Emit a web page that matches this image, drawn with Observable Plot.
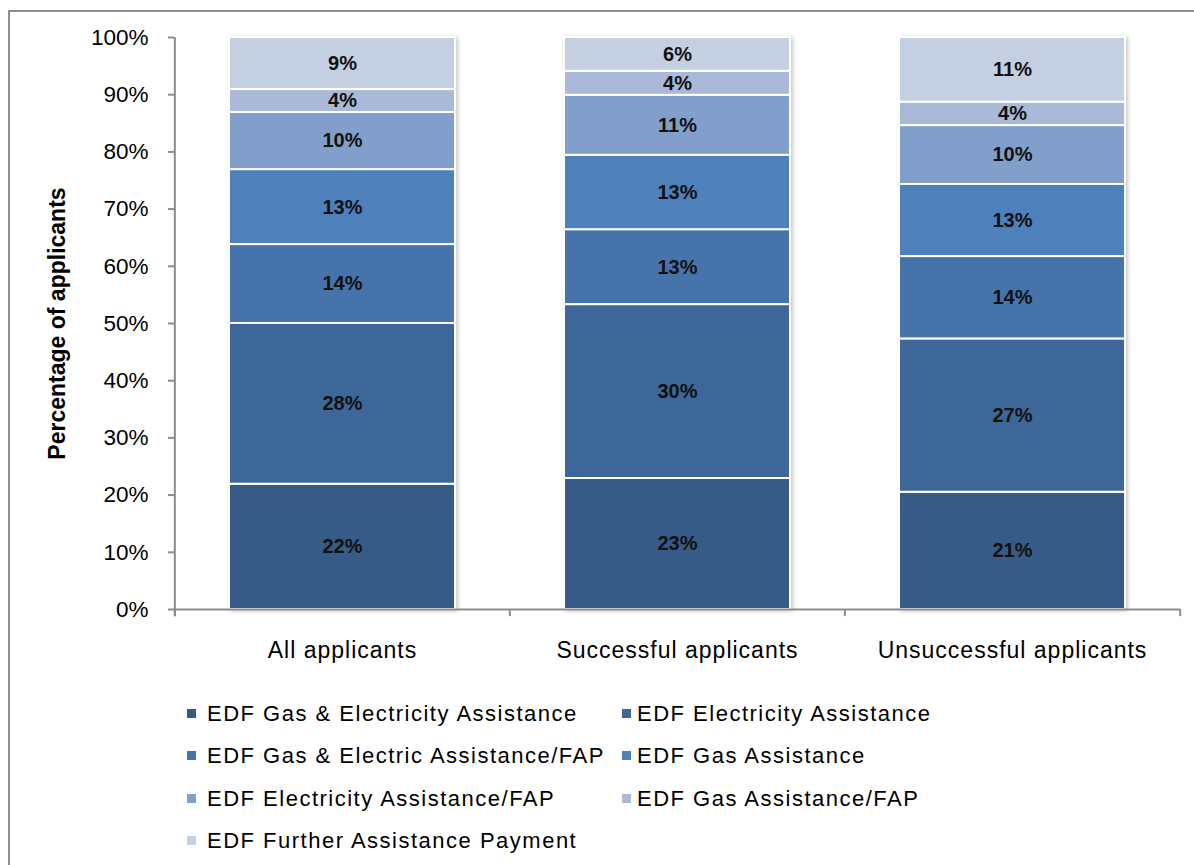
<!DOCTYPE html>
<html><head><meta charset="utf-8">
<script src="https://cdn.jsdelivr.net/npm/d3@7"></script>
<script src="https://cdn.jsdelivr.net/npm/@observablehq/plot@0.6"></script>
<style>
body{margin:0;background:#fff;font-family:"Liberation Sans",Arial,sans-serif;}
#wrap{position:relative;width:1194px;height:865px;overflow:hidden;background:#fff;}
#frame{position:absolute;left:8px;top:10px;width:1300px;height:1000px;border-left:2px solid #8f8f8f;border-top:2px solid #8f8f8f;}
#chart{position:absolute;left:0;top:0;}
.li{position:absolute;font-size:22px;line-height:22px;white-space:nowrap;color:#000;letter-spacing:1.5px;}
.sw{position:absolute;width:9px;height:9px;}
</style>
</head><body>
<div id="wrap"><div id="frame"></div><div id="chart"></div><div id="legend"></div></div>
<script>
const categories = ["All applicants", "Successful applicants", "Unsuccessful applicants"];
const seriesNames = [
  "EDF Gas & Electricity Assistance",
  "EDF Electricity Assistance",
  "EDF Gas & Electric Assistance/FAP",
  "EDF Gas Assistance",
  "EDF Electricity Assistance/FAP",
  "EDF Gas Assistance/FAP",
  "EDF Further Assistance Payment"
];
const allApplicants = [21.9, 28.1, 13.8, 13.1, 10.0, 4.0, 9.1];
const successfulApplicants = [22.9, 30.4, 13.1, 13.0, 10.5, 4.2, 5.9];
const unsuccessfulApplicants = [20.5, 26.8, 14.4, 12.6, 10.3, 4.1, 11.3];
const seriesColors = ["#375b87", "#3d6699", "#4674aa", "#4e80bc", "#829fcb", "#a9b9d7", "#c5cfe2"];
const yTicks = [0, 10, 20, 30, 40, 50, 60, 70, 80, 90, 100];

const valuesByCat = [allApplicants, successfulApplicants, unsuccessfulApplicants];
const data = [];
categories.forEach((cat, i) => {
  seriesNames.forEach((s, j) => data.push({cat, series: s, value: valuesByCat[i][j]}));
});

const W = 1194, mL = 174, mR = 14;
const half = (W - mL - mR) / categories.length / 2;

const chart = Plot.plot({
  width: W, height: 670,
  marginTop: 37, marginBottom: 61, marginLeft: mL, marginRight: mR,
  style: {fontFamily: "'Liberation Sans', Arial, sans-serif", fontSize: "22px", color: "#000", background: "transparent", overflow: "visible"},
  x: {domain: categories, paddingInner: 0.325, paddingOuter: 0.1625, axis: null},
  y: {domain: [0, 100], axis: null},
  color: {domain: seriesNames, range: seriesColors},
  marks: [
    Plot.barY(data, Plot.stackY({x: "cat", y: "value", fill: "series", stroke: "white", strokeWidth: 2})),
    Plot.text(data, Plot.stackY({x: "cat", y: "value", text: d => Math.round(d.value) + "%", fontWeight: "bold", fontSize: 20, fill: "#111"})),
    Plot.ruleY([0], {stroke: "#8c8c8c", strokeWidth: 2}),
    Plot.ruleX([categories[0]], {x: d => d, dx: -half, y1: 100, y2: -1.25, stroke: "#8c8c8c", strokeWidth: 2}),
    Plot.ruleX(categories, {x: d => d, dx: -half, y1: 0, y2: -1.25, stroke: "#8c8c8c", strokeWidth: 2}),
    Plot.ruleX([categories[categories.length - 1]], {x: d => d, dx: half, y1: 0, y2: -1.25, stroke: "#8c8c8c", strokeWidth: 2}),
    Plot.axisY(yTicks, {tickSize: 6, tickPadding: 20, tickFormat: d => d + "%", stroke: "#8c8c8c", strokeWidth: 2, fontSize: 22.5, label: null}),
    Plot.axisX({tickSize: 0, tickPadding: 32, fontSize: 23, label: null, style: {letterSpacing: "1px"}}),
    Plot.text(["Percentage of applicants"], {frameAnchor: "left", textAnchor: "middle", dx: -117, rotate: -90, fontWeight: "bold", fontSize: 23, fill: "#000", style: {letterSpacing: "0.5px"}})
  ]
});
const barG = chart.querySelector('g[aria-label="bar"]');
if (barG) barG.style.filter = "drop-shadow(2px 1px 2px rgba(0,0,0,0.22))";
const xAxisG = chart.querySelector('g[aria-label="x-axis tick label"]');
if (xAxisG) xAxisG.style.letterSpacing = "1px";
document.getElementById("chart").appendChild(chart);

const legend = document.getElementById("legend");
const colX = [[187, 207], [622, 637]];
const rowY = [714, 756, 799, 841];
seriesNames.forEach((s, i) => {
  const c = i % 2, r = Math.floor(i / 2);
  const sw = document.createElement("div");
  sw.className = "sw";
  sw.style.left = colX[c][0] + "px";
  sw.style.top = (rowY[r] - 5) + "px";
  sw.style.background = seriesColors[i];
  legend.appendChild(sw);
  const t = document.createElement("div");
  t.className = "li";
  t.style.left = colX[c][1] + "px";
  t.style.top = (rowY[r] - 11) + "px";
  t.textContent = s;
  legend.appendChild(t);
});
</script>
</body></html>
